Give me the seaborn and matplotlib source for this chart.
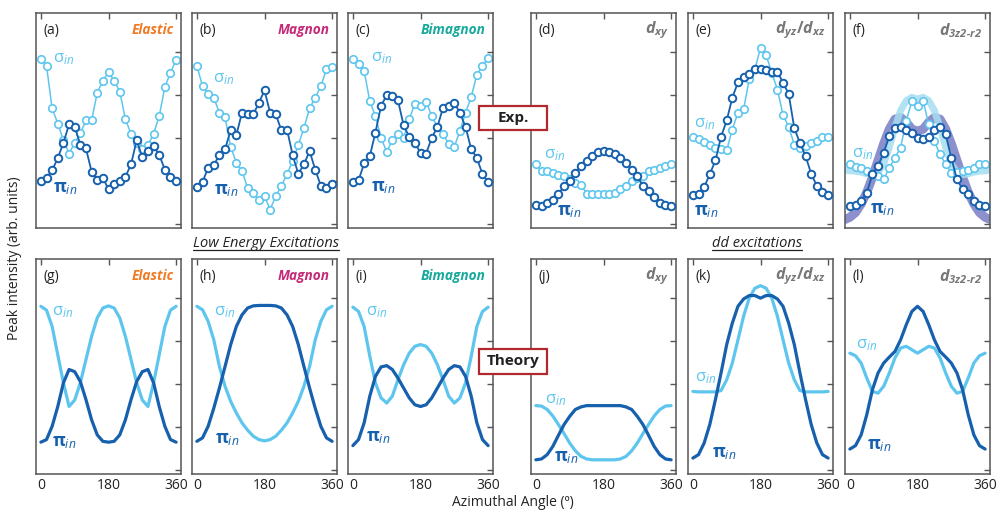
import matplotlib
matplotlib.use('Agg')
import matplotlib.pyplot as plt
from matplotlib.patches import Rectangle
from matplotlib.lines import Line2D
import seaborn as sns

sns.set_theme(style='white')
plt.rcParams['font.family'] = ['Open Sans', 'DejaVu Sans']
plt.rcParams.update({
    'mathtext.fontset': 'custom',
    'mathtext.rm': 'Open Sans',
    'mathtext.it': 'Open Sans:italic',
    'mathtext.bf': 'Open Sans:bold',
    'mathtext.bfit': 'Open Sans:italic:bold',
})

LIGHT = '#5ec6ee'
DARK = '#1660ad'

angles = [0, 15, 30, 45, 60, 75, 90, 105, 120, 135, 150, 165, 180,
          195, 210, 225, 240, 255, 270, 285, 300, 315, 330, 345, 360]
band_angles = [-15] + angles + [375]

# experiment (top row)
a_sig = [3.82, 3.67, 2.68, 2.33, 1.94, 1.63, 1.88, 2.10, 2.40, 2.40, 3.05, 3.32, 3.53,
         3.32, 3.07, 2.43, 2.09, 1.88, 1.73, 1.83, 2.09, 2.50, 3.18, 3.51, 3.81]
a_pi = [0.99, 1.07, 1.24, 1.53, 1.88, 2.31, 2.25, 1.84, 1.75, 1.21, 1.02, 1.07, 0.80,
        0.93, 0.99, 1.09, 1.38, 1.94, 1.55, 1.68, 1.81, 1.60, 1.26, 1.09, 0.99]
b_sig = [3.67, 3.20, 3.02, 2.93, 2.58, 2.47, 1.79, 1.42, 1.22, 0.84, 0.72, 0.54, 0.64,
         0.33, 0.64, 0.88, 1.15, 1.46, 1.83, 2.23, 2.68, 2.93, 3.20, 3.59, 3.64]
b_pi = [0.85, 0.97, 1.30, 1.36, 1.60, 1.73, 2.18, 2.06, 2.58, 2.56, 2.54, 2.81, 3.10,
        2.58, 2.54, 2.17, 2.19, 1.59, 1.16, 1.38, 1.69, 1.26, 0.88, 0.84, 0.93]
c_sig = [3.84, 3.72, 3.55, 2.85, 2.50, 2.00, 1.67, 1.94, 2.08, 2.00, 2.43, 2.79, 2.74,
         2.84, 2.50, 2.25, 2.08, 1.86, 1.79, 2.16, 2.58, 2.95, 3.46, 3.67, 3.86]
c_pi = [0.97, 1.01, 1.40, 1.57, 2.12, 2.74, 2.99, 2.97, 2.87, 2.29, 2.02, 1.88, 1.65,
        1.63, 2.00, 2.25, 2.70, 2.74, 2.81, 2.58, 2.25, 1.73, 1.53, 1.15, 0.97]
d_sig = [1.38, 1.22, 1.22, 1.19, 1.13, 1.11, 1.03, 0.95, 0.91, 0.70, 0.70, 0.70, 0.70,
         0.70, 0.72, 0.80, 0.88, 0.99, 1.07, 1.11, 1.22, 1.26, 1.30, 1.34, 1.38]
d_pi = [0.43, 0.41, 0.49, 0.55, 0.68, 0.88, 0.99, 1.19, 1.34, 1.46, 1.57, 1.67, 1.69,
        1.67, 1.61, 1.53, 1.42, 1.26, 1.11, 0.88, 0.76, 0.62, 0.49, 0.43, 0.41]
e_sig = [2.02, 1.96, 1.91, 1.84, 1.77, 1.73, 1.71, 2.19, 2.58, 2.66, 3.36, 3.59, 4.09,
         3.92, 3.51, 3.12, 2.53, 2.25, 1.84, 1.77, 1.81, 1.88, 1.92, 2.02, 2.02]
e_pi = [0.67, 0.68, 0.85, 1.15, 1.47, 2.02, 2.40, 2.93, 3.29, 3.41, 3.49, 3.59, 3.60,
        3.57, 3.53, 3.53, 3.28, 3.02, 2.22, 1.88, 1.57, 1.16, 0.88, 0.74, 0.67]
f_sig = [1.38, 1.32, 1.29, 1.22, 1.16, 1.11, 1.03, 1.30, 1.53, 1.77, 2.39, 2.85, 2.74,
         2.85, 2.31, 1.92, 1.61, 1.38, 1.19, 1.21, 1.22, 1.26, 1.30, 1.38, 1.38]
f_pi = [0.41, 0.43, 0.53, 0.72, 1.15, 1.34, 1.65, 2.04, 2.23, 2.25, 2.17, 2.12, 2.00,
        1.98, 2.02, 2.19, 2.25, 2.08, 1.53, 1.03, 0.80, 0.70, 0.53, 0.43, 0.41]
# calculated curves laid under panel (f)
f_band_pi = [0.09, 0.15, 0.26, 0.46, 0.73, 1.08, 1.47, 1.86, 2.20, 2.43, 2.47, 2.36, 2.20, 2.15,
             2.20, 2.36, 2.47, 2.43, 2.20, 1.86, 1.47, 1.08, 0.73, 0.46, 0.26, 0.15, 0.09]
f_band_sig = [1.25, 1.23, 1.22, 1.20, 1.16, 1.14, 1.20, 1.39, 1.78, 2.24, 2.63, 2.86, 2.94, 2.90,
              2.94, 2.86, 2.63, 2.24, 1.78, 1.39, 1.20, 1.14, 1.16, 1.20, 1.22, 1.23, 1.25]

# theory (bottom row)
g_sig = [3.80, 3.71, 3.33, 2.67, 2.02, 1.47, 1.62, 2.02, 2.56, 3.10, 3.53, 3.76, 3.81,
         3.76, 3.53, 3.10, 2.56, 2.02, 1.62, 1.47, 2.02, 2.67, 3.33, 3.71, 3.80]
g_pi = [0.64, 0.70, 1.01, 1.47, 2.02, 2.33, 2.28, 2.05, 1.63, 1.16, 0.81, 0.66, 0.64,
        0.66, 0.81, 1.16, 1.63, 2.05, 2.28, 2.33, 2.02, 1.47, 1.01, 0.70, 0.64]
h_sig = [3.80, 3.72, 3.45, 3.02, 2.40, 1.94, 1.59, 1.32, 1.09, 0.92, 0.78, 0.70, 0.67,
         0.70, 0.78, 0.92, 1.09, 1.32, 1.59, 1.94, 2.40, 3.02, 3.45, 3.72, 3.80]
h_pi = [0.66, 0.74, 1.01, 1.43, 1.90, 2.40, 2.91, 3.33, 3.60, 3.76, 3.81, 3.82, 3.82,
        3.82, 3.81, 3.76, 3.60, 3.33, 2.91, 2.40, 1.90, 1.43, 1.01, 0.74, 0.66]
i_sig = [3.78, 3.68, 3.33, 2.64, 2.02, 1.67, 1.55, 1.71, 2.09, 2.44, 2.71, 2.87, 2.91,
         2.87, 2.71, 2.44, 2.09, 1.71, 1.55, 1.67, 2.02, 2.64, 3.33, 3.68, 3.78]
i_pi = [0.56, 0.70, 1.09, 1.71, 2.17, 2.39, 2.42, 2.33, 2.13, 1.90, 1.67, 1.51, 1.47,
        1.51, 1.67, 1.90, 2.13, 2.33, 2.42, 2.39, 2.17, 1.71, 1.09, 0.70, 0.56]
j_sig = [1.49, 1.48, 1.40, 1.25, 1.05, 0.84, 0.62, 0.44, 0.31, 0.25, 0.23, 0.23, 0.23,
         0.23, 0.23, 0.25, 0.31, 0.44, 0.62, 0.84, 1.05, 1.25, 1.40, 1.48, 1.49]
j_pi = [0.23, 0.25, 0.35, 0.54, 0.80, 1.05, 1.24, 1.40, 1.46, 1.49, 1.49, 1.49, 1.49,
        1.49, 1.49, 1.49, 1.46, 1.40, 1.24, 1.05, 0.80, 0.54, 0.35, 0.25, 0.23]
k_sig = [1.82, 1.81, 1.81, 1.81, 1.81, 1.84, 2.09, 2.48, 3.02, 3.57, 3.99, 4.22, 4.28,
         4.22, 3.99, 3.57, 3.02, 2.48, 2.09, 1.84, 1.81, 1.81, 1.81, 1.81, 1.82]
k_pi = [0.27, 0.35, 0.62, 1.05, 1.63, 2.25, 2.91, 3.41, 3.80, 3.97, 4.05, 4.05, 3.99,
        4.05, 4.05, 3.97, 3.80, 3.41, 2.91, 2.25, 1.63, 1.05, 0.62, 0.35, 0.27]
l_sig = [2.71, 2.65, 2.48, 2.13, 1.82, 1.78, 1.94, 2.25, 2.60, 2.83, 2.87, 2.79, 2.71,
         2.79, 2.87, 2.83, 2.60, 2.25, 1.94, 1.78, 1.82, 2.13, 2.48, 2.65, 2.71]
l_pi = [0.48, 0.56, 0.81, 1.28, 1.86, 2.25, 2.48, 2.62, 2.75, 3.02, 3.37, 3.68, 3.80,
        3.68, 3.37, 3.02, 2.75, 2.62, 2.48, 2.25, 1.86, 1.28, 0.81, 0.56, 0.48]

letters = ['a', 'b', 'c', 'd', 'e', 'f', 'g', 'h', 'i', 'j', 'k', 'l']
titles = ['Elastic', 'Magnon', 'Bimagnon',
          r'$\mathbfit{d}_{\mathbfit{xy}}$',
          r'$\mathbfit{d}_{\mathbfit{yz}}\mathbf{/}\mathbfit{d}_{\mathbfit{xz}}$',
          '$\\mathbfit{d}_{\\mathbfit{3z2\u2010r2}}$']
title_colors = ['#f07a22', '#c42a78', '#17a99c', '#777777', '#777777', '#777777']
sig_series = [a_sig, b_sig, c_sig, d_sig, e_sig, f_sig, g_sig, h_sig, i_sig, j_sig, k_sig, l_sig]
pi_series = [a_pi, b_pi, c_pi, d_pi, e_pi, f_pi, g_pi, h_pi, i_pi, j_pi, k_pi, l_pi]
# where the sigma/pi tags sit (angle, intensity)
sig_tag = [(32, 3.84), (42, 3.37), (47, 3.86), (22, 1.60), (3, 2.33), (5, 1.63),
           (30, 3.67), (46, 3.67), (35, 3.67), (23, 1.63), (5, 2.14), (17, 2.91)]
pi_tag = [(32, 0.81), (45, 0.77), (47, 0.84), (57, 0.28), (3, 0.28), (53, 0.33),
          (30, 0.63), (48, 0.70), (35, 0.74), (47, 0.28), (51, 0.37), (46, 0.56)]

W, H = 1005, 521
fig = plt.figure(figsize=(W / 100, H / 100), dpi=100)
col_left = [36, 192, 348, 531, 688, 845]
row_top = [13, 259]
pw, ph = 145, 215

for idx in range(12):
    row, col = divmod(idx, 6)
    ax = fig.add_axes([col_left[col] / W, 1 - (row_top[row] + ph) / H, pw / W, ph / H])
    sig, pi = sig_series[idx], pi_series[idx]
    if row == 0:
        if idx == 5:
            sns.lineplot(x=band_angles, y=f_band_pi, ax=ax, color='#8c90cc', linewidth=6.5,
                         zorder=1, solid_capstyle='butt')
            sns.lineplot(x=band_angles, y=f_band_sig, ax=ax, color='#a6def0', linewidth=5,
                         alpha=0.85, zorder=1.2, solid_capstyle='butt')
        sns.lineplot(x=angles, y=sig, ax=ax, color=LIGHT, linewidth=1.1, marker='o',
                     markersize=5.4, markerfacecolor='white', markeredgecolor=LIGHT,
                     markeredgewidth=1.2, zorder=2)
        sns.lineplot(x=angles, y=pi, ax=ax, color=DARK, linewidth=1.3, marker='o',
                     markersize=5.4, markerfacecolor='white', markeredgecolor=DARK,
                     markeredgewidth=1.4, zorder=3)
    else:
        sns.lineplot(x=angles, y=sig, ax=ax, color=LIGHT, linewidth=2.3, zorder=2)
        sns.lineplot(x=angles, y=pi, ax=ax, color=DARK, linewidth=2.3, zorder=3)

    ax.set_xlim(-13, 373)
    ax.set_ylim(-0.1, 4.9)
    ax.set_xticks([0, 180, 360])
    ax.set_yticks([0, 1, 2, 3, 4])
    ax.set_yticklabels([])
    if row == 0:
        ax.set_xticklabels([])
    ax.tick_params(direction='in', top=True, right=True, length=4, width=1,
                   color='#555555', labelsize=10, labelcolor='#222222', pad=3)
    ax.set_xlabel('')
    ax.set_ylabel('')
    for sp in ax.spines.values():
        sp.set_color('#555555')
        sp.set_linewidth(1.1)

    ax.text(0.05, 0.92, f'({letters[idx]})', transform=ax.transAxes, fontsize=10,
            va='center', ha='left', color='#222222')
    if col < 3:
        ax.text(0.95, 0.92, titles[col], transform=ax.transAxes, fontsize=9.8,
                fontweight='bold', style='italic', color=title_colors[col],
                va='center', ha='right')
    else:
        ax.text(0.95, 0.92, titles[col], transform=ax.transAxes, fontsize=11.5,
                color=title_colors[col], va='center', ha='right')

    sx, sy = sig_tag[idx]
    ax.text(sx, sy, r'$\mathrm{\sigma}_{\mathit{in}}$', color=LIGHT, fontsize=12,
            va='center', ha='left', zorder=5)
    px, py = pi_tag[idx]
    ax.text(px, py, r'$\mathbf{\pi}_{\mathit{in}}$', color=DARK, fontsize=12.5,
            va='center', ha='left', zorder=5)

# boxed row tags
for (y0, y1, label) in [(106, 130, 'Exp.'), (349, 374, 'Theory')]:
    fig.add_artist(Rectangle((479 / W, 1 - y1 / H), 68 / W, (y1 - y0) / H,
                             transform=fig.transFigure, facecolor='white',
                             edgecolor='#b3282d', linewidth=1.6, zorder=5))
    fig.text(513 / W, 1 - (y0 + y1) / 2 / H, label, ha='center', va='center',
             fontsize=11, fontweight='bold', color='#222222', zorder=6)

# group captions, underlined
captions = []
for (xc, label) in [(266, 'Low Energy Excitations'), (757, 'dd excitations')]:
    t = fig.text(xc / W, 1 - 243 / H, label, ha='center', va='center', fontsize=10.5,
                 style='italic', color='#222222')
    captions.append(t)

fig.text(513 / W, 1 - 503 / H, 'Azimuthal Angle (º)', ha='center', va='center',
         fontsize=10, color='#222222')
fig.text(15 / W, 1 - 258 / H, 'Peak intensity (arb. units)', ha='center', va='center',
         rotation=90, fontsize=10, color='#222222')

fig.canvas.draw()
r = fig.canvas.get_renderer()
for t in captions:
    bb = t.get_window_extent(renderer=r)
    yl = (bb.y0 + 1) / H
    fig.add_artist(Line2D([bb.x0 / W, bb.x1 / W], [yl, yl], transform=fig.transFigure,
                          color='#222222', linewidth=0.9))

fig.savefig('out.png', dpi=100)
